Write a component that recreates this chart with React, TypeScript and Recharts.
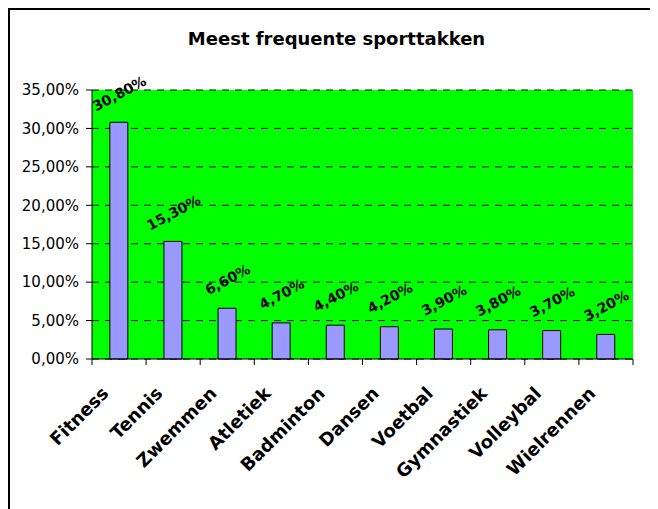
import React from "react";
import { BarChart, Bar, XAxis, YAxis, CartesianGrid, LabelList } from "recharts";

const sports = [
  "Fitness",
  "Tennis",
  "Zwemmen",
  "Atletiek",
  "Badminton",
  "Dansen",
  "Voetbal",
  "Gymnastiek",
  "Volleybal",
  "Wielrennen",
];
const shares = [30.8, 15.3, 6.6, 4.7, 4.4, 4.2, 3.9, 3.8, 3.7, 3.2];
const yTicks = [0, 5, 10, 15, 20, 25, 30, 35];

const data = sports.map((name, i) => ({ name, share: shares[i] }));

const W = 650;
const H = 501;
const plotLeft = 84;
const plotRight = 625;
const band = (plotRight - plotLeft) / sports.length;
const font = "'DejaVu Sans', Verdana, sans-serif";

const fmt = (v: number) => v.toFixed(2).replace(".", ",") + "%";

const CategoryTick = (props: any) => {
  const { x, y, payload, index } = props;
  return (
    <g>
      {index === 0 && (
        <line x1={x - band / 2} y1={y - 8} x2={x - band / 2} y2={y - 2} stroke="#000" />
      )}
      <line x1={x + band / 2} y1={y - 8} x2={x + band / 2} y2={y - 2} stroke="#000" />
      <text
        x={0}
        y={0}
        transform={`translate(${x - 13},${y + 24}) rotate(-45)`}
        textAnchor="end"
        dominantBaseline="middle"
        fontFamily={font}
        fontWeight="bold"
        fontSize={18}
        fill="#000"
      >
        {payload.value}
      </text>
    </g>
  );
};

const ValueLabel = (props: any) => {
  const { x, y, width, value } = props;
  const cx = x + width / 2 + 1;
  const cy = y - 28;
  return (
    <text
      x={0}
      y={0}
      transform={`translate(${cx},${cy}) rotate(-28)`}
      textAnchor="middle"
      dominantBaseline="middle"
      fontFamily={font}
      fontWeight="bold"
      fontSize={14}
      fill="#000"
    >
      {fmt(value)}
    </text>
  );
};

export default function App() {
  return (
    <div style={{ width: W, height: H, position: "relative", background: "#fff" }}>
      <BarChart
        width={W}
        height={H}
        data={data}
        margin={{ top: 82, right: W - plotRight, left: 0, bottom: 0 }}
        barCategoryGap="33%"
        style={{ position: "absolute", left: 0, top: 0 }}
      >
        <CartesianGrid
          horizontal
          vertical={false}
          stroke="#000"
          strokeDasharray="7 6"
          fill="#00FF00"
          fillOpacity={1}
        />
        <XAxis
          dataKey="name"
          interval={0}
          height={150}
          axisLine={{ stroke: "#000" }}
          tickLine={false}
          tick={<CategoryTick />}
        />
        <YAxis
          domain={[0, 35]}
          ticks={yTicks}
          width={plotLeft}
          tickFormatter={fmt}
          axisLine={{ stroke: "#000" }}
          tickLine={{ stroke: "#000" }}
          tickSize={6}
          tickMargin={7}
          tick={{ fill: "#000", fontFamily: font, fontSize: 15 }}
        />
        <Bar dataKey="share" fill="#9999FF" stroke="#000" strokeWidth={1} isAnimationActive={false}>
          <LabelList dataKey="share" content={<ValueLabel />} />
        </Bar>
      </BarChart>
      <div
        style={{
          position: "absolute",
          left: 0,
          top: 0,
          width: W + 8,
          height: H + 8,
          borderTop: "2px solid #000",
          borderLeft: "2px solid #000",
          pointerEvents: "none",
        }}
      />
      <div
        style={{
          position: "absolute",
          left: 0,
          width: 657,
          top: 22,
          lineHeight: "18px",
          textAlign: "center",
          fontFamily: font,
          fontWeight: "bold",
          fontSize: 18,
          whiteSpace: "nowrap",
        }}
      >
        Meest frequente sporttakken
      </div>
    </div>
  );
}
